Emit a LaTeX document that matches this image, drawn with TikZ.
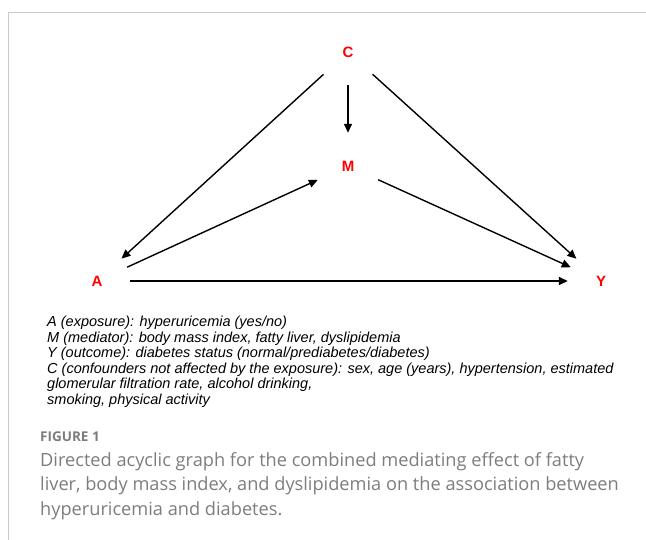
\documentclass[tikz,border=0pt]{standalone}
\usepackage{fontspec}
\setmainfont{Liberation Sans}
\newfontfamily\capfont{Open Sans}
\usepackage{tikz}
\usetikzlibrary{arrows.meta}
\definecolor{framegray}{RGB}{200,200,200}
\definecolor{capgray}{RGB}{125,125,125}
\definecolor{labred}{RGB}{255,0,0}
\tikzset{
	var/.style={circle, minimum size=66pt, inner sep=0pt, text=labred, font=\bfseries\fontsize{15}{17}\selectfont},
	arr/.style={line width=1.4pt, -{Triangle[length=9pt,width=8pt]}}
}

\begin{document}
\begin{tikzpicture}[x=1pt, y=-1pt]
		%%%%% START %%%%%
		\useasboundingbox (0, 0) rectangle (646, 540);
		\draw[framegray, line width=1pt] (8, 540) -- (8, 13) -- (646, 13);
		
		\node[var] (C) at (348, 52) {C};
		\node[var] (M) at (348, 166) {M};
		\node[var] (A) at (97, 281) {A};
		\node[var] (Y) at (601, 281) {Y};
		
		\draw[arr] (C) -- (A);
		\draw[arr] (C) -- (M);
		\draw[arr] (C) -- (Y);
		\draw[arr] (A) -- (M);
		\draw[arr] (M) -- (Y);
		\draw[arr] (A) -- (Y);
		
		\node[anchor=north west, align=left, inner sep=0pt, font=\itshape\fontsize{14.5}{15.5}\selectfont] (legend) at (47, 316) {A (exposure): hyperuricemia (yes/no)\\
			M (mediator): body mass index, fatty liver, dyslipidemia\\
			Y (outcome): diabetes status (normal/prediabetes/diabetes)\\
			C (confounders not affected by the exposure): sex, age (years), hypertension, estimated\\
			glomerular filtration rate, alcohol drinking,\\
			smoking, physical activity};
		
		\node[anchor=west, inner sep=0pt, text=capgray, font=\capfont\bfseries\fontsize{13.5}{15}\selectfont] (fig) at (40, 437) {FIGURE 1};
		\node[anchor=north west, align=left, inner sep=0pt, text=capgray, font=\capfont\fontsize{18.2}{24.5}\selectfont] (caption) at (40, 452) {Directed acyclic graph for the combined mediating effect of fatty\\
			liver, body mass index, and dyslipidemia on the association between\\
			hyperuricemia and diabetes.};
		%%%%% END %%%%%
	\end{tikzpicture}
\end{document}
